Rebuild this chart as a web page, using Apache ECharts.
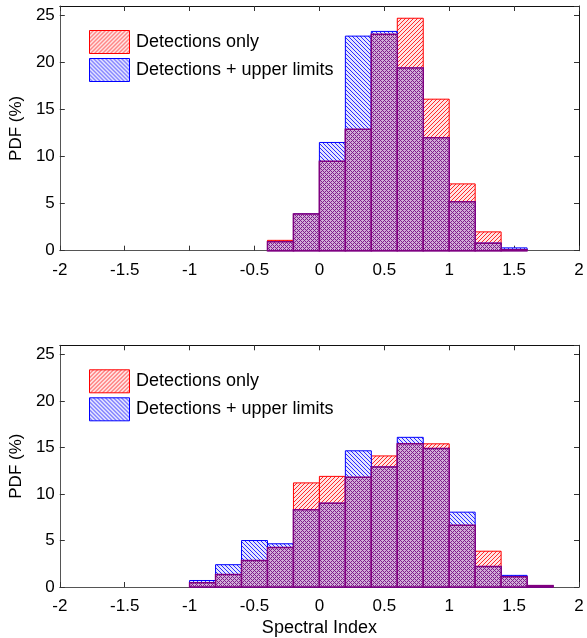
<!DOCTYPE html>
<html>
<head>
<meta charset="UTF-8">
<title>Spectral index PDF</title>
<script src="https://cdn.jsdelivr.net/npm/echarts@6/dist/echarts.min.js"></script>
<style>
  body { margin: 0; background: #fff; }
</style>
</head>
<body>
	<div id="main" style="width: 587px; height: 638px;"></div>

	<script type="text/javascript">
		// bins are 0.2 wide, left edges below
		var binStart = [-1.0, -0.8, -0.6, -0.4, -0.2, 0, 0.2, 0.4, 0.6, 0.8, 1.0, 1.2, 1.4, 1.6];
		var binWidth = 0.2;

		var topDetections   = [0, 0, 0, 1.1, 3.9, 9.5, 12.9, 23.0, 24.7, 16.1, 7.1, 2.0, 0.1, 0];
		var topWithLimits   = [0, 0, 0, 0.95, 3.9, 11.5, 22.8, 23.3, 19.4, 12.0, 5.2, 0.8, 0.3, 0];

		var bottomDetections = [0.45, 1.35, 2.85, 4.25, 11.2, 11.9, 11.8, 14.1, 15.4, 15.4, 6.65, 3.85, 1.1, 0.15];
		var bottomWithLimits = [0.7, 2.4, 5.0, 4.65, 8.3, 9.0, 14.65, 12.9, 16.1, 14.9, 8.05, 2.2, 1.25, 0.15];

		var legendNames = ['Detections only', 'Detections + upper limits'];
		var font = "'Liberation Sans', Arial, sans-serif";

		// hatch fills
		function hatch(bg, line, dir) {
			var s = 4;
			var c = document.createElement('canvas');
			c.width = s; c.height = s;
			var g = c.getContext('2d');
			g.fillStyle = bg; g.fillRect(0, 0, s, s);
			g.fillStyle = line;
			for (var i = 0; i < s; i++) {
				var x = dir > 0 ? (s - 1 - i) : i;
				g.fillRect(x, i, 1, 1);
			}
			return { image: c, repeat: 'repeat' };
		}
		function cross(bg, line) {
			var s = 4;
			var c = document.createElement('canvas');
			c.width = s; c.height = s;
			var g = c.getContext('2d');
			g.fillStyle = bg; g.fillRect(0, 0, s, s);
			g.fillStyle = line;
			for (var y = 0; y < s; y++) {
				for (var x = 0; x < s; x++) {
					if ((x + y) % 4 === 0 || (x - y + 8) % 4 === 0) g.fillRect(x, y, 1, 1);
				}
			}
			return { image: c, repeat: 'repeat' };
		}
		var redFill = hatch('#ffe4e4', '#ff2a2a', 1);
		var blueFill = hatch('#e4e4ff', '#2a2aff', -1);
		var purpleFill = cross('#d2acd8', '#7e1e8c');

		function binData(values) {
			var out = [];
			for (var i = 0; i < binStart.length; i++) {
				out.push([binStart[i], binStart[i] + binWidth, values[i]]);
			}
			return out;
		}
		function overlap(a, b) {
			var out = [];
			for (var i = 0; i < a.length; i++) out.push(Math.min(a[i], b[i]));
			return out;
		}

		function barRenderer(fill, stroke, lw) {
			return function (params, api) {
				var v = api.value(2);
				if (!v) return;
				var p0 = api.coord([api.value(0), v]);
				var p1 = api.coord([api.value(1), 0]);
				return {
					type: 'rect',
					shape: { x: p0[0], y: p0[1], width: p1[0] - p0[0], height: p1[1] - p0[1] },
					style: { fill: fill, stroke: stroke, lineWidth: lw }
				};
			};
		}

		function histSeries(idx, det, all) {
			return [
				{ type: 'custom', name: legendNames[0], xAxisIndex: idx, yAxisIndex: idx,
				  renderItem: barRenderer(redFill, '#ff0000', 1), data: binData(det), encode: { x: [0, 1], y: 2 } },
				{ type: 'custom', name: legendNames[1], xAxisIndex: idx, yAxisIndex: idx,
				  renderItem: barRenderer(blueFill, '#0000ff', 1), data: binData(all), encode: { x: [0, 1], y: 2 } },
				{ type: 'custom', name: 'both', xAxisIndex: idx, yAxisIndex: idx,
				  renderItem: barRenderer(purpleFill, '#800080', 1.5), data: binData(overlap(det, all)), encode: { x: [0, 1], y: 2 } }
			];
		}

		var grids = [
			{ left: 57.5, right: 8, top: 6, height: 244.7 },
			{ left: 57.5, right: 8, top: 345.3, height: 244.7 }
		];

		var xAxes = [], yAxes = [];
		for (var g = 0; g < 2; g++) {
			xAxes.push({
				type: 'value', gridIndex: g, min: -2, max: 2, interval: 0.5,
				splitLine: { show: false },
				axisLine: { onZero: false, lineStyle: { color: '#555', width: 1 } },
				axisTick: { inside: true, length: 5, lineStyle: { color: '#333' } },
				axisLabel: { color: '#000', fontSize: 17, fontFamily: font, margin: 11 },
				name: g === 1 ? 'Spectral Index' : '',
				nameLocation: 'middle', nameGap: 32,
				nameTextStyle: { color: '#000', fontSize: 18, fontFamily: font }
			});
			xAxes.push({
				type: 'value', gridIndex: g, position: 'top', min: -2, max: 2, interval: 0.5,
				splitLine: { show: false },
				axisLine: { onZero: false, lineStyle: { color: '#111', width: 1 } },
				axisTick: { inside: true, length: 5, lineStyle: { color: '#333' } },
				axisLabel: { show: false }
			});
			yAxes.push({
				type: 'value', gridIndex: g, min: 0, max: 26, interval: 5,
				splitLine: { show: false },
				axisLine: { show: true, onZero: false, lineStyle: { color: '#555', width: 1 } },
				axisTick: { show: true, inside: true, length: 5, lineStyle: { color: '#333' } },
				axisLabel: { color: '#000', fontSize: 17, fontFamily: font, margin: 5, showMaxLabel: false },
				name: 'PDF (%)', nameLocation: 'middle', nameGap: 29, nameRotate: 90,
				nameTextStyle: { color: '#000', fontSize: 17, fontFamily: font }
			});
			yAxes.push({
				type: 'value', gridIndex: g, position: 'right', min: 0, max: 26, interval: 5,
				splitLine: { show: false },
				axisLine: { show: true, onZero: false, lineStyle: { color: '#111', width: 1 } },
				axisTick: { show: true, inside: true, length: 5, lineStyle: { color: '#333' } },
				axisLabel: { show: false }
			});
		}

		// legend drawn as graphics, one per panel
		var graphics = [];
		[0, 339.3].forEach(function (dy) {
			graphics.push({ type: 'rect', left: 89, top: 30 + dy, shape: { width: 40, height: 23 },
				style: { fill: redFill, stroke: '#ff0000', lineWidth: 1 } });
			graphics.push({ type: 'rect', left: 89, top: 58 + dy, shape: { width: 40, height: 23 },
				style: { fill: blueFill, stroke: '#0000ff', lineWidth: 1 } });
			graphics.push({ type: 'text', left: 136, top: 33 + dy,
				style: { text: legendNames[0], fill: '#000', font: '18px ' + font } });
			graphics.push({ type: 'text', left: 136, top: 61 + dy,
				style: { text: legendNames[1], fill: '#000', font: '18px ' + font } });
		});

		var series = [];
		// axis index 0/2 = main axes of each grid
		series = series.concat(histSeries(0, topDetections, topWithLimits));
		series = series.concat(histSeries(2, bottomDetections, bottomWithLimits));

		var myChart = echarts.init(document.getElementById('main'));
		myChart.setOption({
			animation: false,
			grid: grids,
			xAxis: xAxes,
			yAxis: yAxes,
			graphic: graphics,
			series: series
		});
	</script>
</body>
</html>
